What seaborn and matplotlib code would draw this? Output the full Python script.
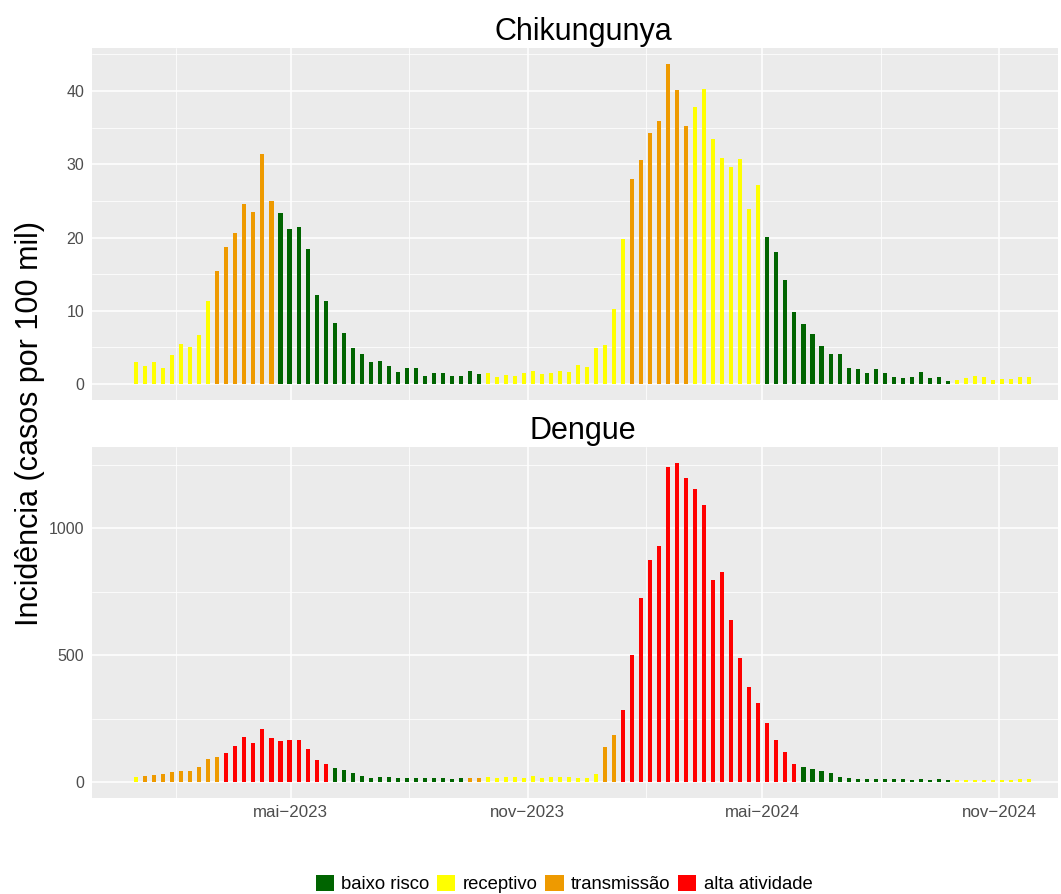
import pandas as pd
import numpy as np
import matplotlib
matplotlib.use("Agg")
import matplotlib.pyplot as plt
import matplotlib.dates as mdates
from matplotlib.patches import Patch
from matplotlib.ticker import FixedLocator
import seaborn as sns

# semanas epidemiologicas (uma barra por semana)
first_week = "2023-01-01"
n_weeks = 100

chik_values = [3.0, 2.5, 3.0, 2.2, 4.0, 5.5, 5.0, 6.7, 11.3,
               15.4, 18.7, 20.6, 24.6, 23.5, 31.4, 25.0,
               23.3, 21.2, 21.4, 18.4, 12.1, 11.3, 8.3, 7.0, 4.9, 4.1, 3.0, 3.1, 2.4, 1.6, 2.2, 2.2,
               1.1, 1.5, 1.5, 1.1, 1.1, 1.8, 1.4,
               1.5, 0.95, 1.2, 1.1, 1.5, 1.8, 1.4, 1.5, 1.8, 1.6, 2.6, 2.3, 4.9, 5.3, 10.2, 19.8,
               28.0, 30.6, 34.3, 35.9, 43.7, 40.1, 35.2,
               37.8, 40.3, 33.4, 30.9, 29.6, 30.7, 23.9, 27.2,
               20.1, 18.0, 14.2, 9.8, 8.2, 6.8, 5.2, 4.1, 4.1, 2.2, 2.05, 1.5, 2.05, 1.5, 0.95, 0.8,
               0.95, 1.6, 0.8, 0.95, 0.4,
               0.55, 0.8, 1.1, 0.95, 0.55, 0.7, 0.7, 0.95, 0.95]
chik_status_runs = [("receptivo", 9), ("transmissão", 7), ("baixo risco", 23),
                    ("receptivo", 16), ("transmissão", 7), ("receptivo", 8),
                    ("baixo risco", 21), ("receptivo", 9)]

dengue_values = [20,
                 24, 28, 32, 39, 43, 43, 59, 91, 98,
                 114, 142, 177, 153, 209, 173, 161, 165, 165, 131, 87, 71,
                 55, 47, 35, 24, 16, 20, 20, 16, 16, 16, 14, 14, 14, 10.5, 14,
                 14, 14,
                 20, 14, 20, 20, 14, 22, 14, 20, 20, 20, 14, 14, 30,
                 140, 184,
                 286, 499, 727, 876, 932, 1243, 1258, 1199, 1156, 1093, 798, 829, 640, 491, 373, 310,
                 231, 164, 117, 73,
                 58, 50, 42, 34, 18, 14, 10.5, 10.5, 10.5, 10.5, 10.5, 10.5, 6.6, 10.5, 6.6, 10.5, 6.6,
                 6.6, 6.6, 6.6, 6.6, 6.6, 6.6, 6.6, 10.5, 10.5]
dengue_status_runs = [("receptivo", 1), ("transmissão", 9), ("alta atividade", 12),
                      ("baixo risco", 15), ("transmissão", 2), ("receptivo", 13),
                      ("transmissão", 2), ("alta atividade", 20), ("baixo risco", 17),
                      ("receptivo", 9)]

status_order = ["baixo risco", "receptivo", "transmissão", "alta atividade"]
status_colors = {"baixo risco": "#006400", "receptivo": "#FFFF00",
                 "transmissão": "#EE9A00", "alta atividade": "#FF0000"}

major_dates = ["2023-05-01", "2023-11-01", "2024-05-01", "2024-11-01"]
major_labels = ["mai\u22122023", "nov\u22122023", "mai\u22122024", "nov\u22122024"]
minor_dates = ["2023-02-01", "2023-08-01", "2024-02-01", "2024-08-01"]
x_limits = ["2022-11-27 16:00", "2024-12-16 14:00"]

chik_yticks = [0, 10, 20, 30, 40]
chik_yminor = [5, 15, 25, 35, 45]
dengue_yticks = [0, 500, 1000]
dengue_yminor = [250, 750, 1250]


def expand(runs):
    return [s for s, n in runs for _ in range(n)]


weeks = pd.date_range(first_week, periods=n_weeks, freq="7D")
chik = pd.DataFrame({"semana": weeks, "incidencia": chik_values,
                     "status": expand(chik_status_runs), "agravo": "Chikungunya"})
dengue = pd.DataFrame({"semana": weeks, "incidencia": dengue_values,
                       "status": expand(dengue_status_runs), "agravo": "Dengue"})
df = pd.concat([chik, dengue], ignore_index=True)
df["x"] = mdates.date2num(df["semana"])

sns.set_style("darkgrid", {"axes.facecolor": "#EBEBEB", "grid.color": "white"})
plt.rcParams["font.family"] = ["Liberation Sans", "DejaVu Sans"]

W, H = 1061, 894
fig = plt.figure(figsize=(W / 100, H / 100), dpi=100)
ax1 = fig.add_axes([92 / W, 1 - 400 / H, 966 / W, 352 / H])
ax2 = fig.add_axes([92 / W, 1 - 798 / H, 966 / W, 351 / H])

xlim = mdates.date2num(pd.to_datetime(x_limits))

panels = [(ax1, "Chikungunya", chik_yticks, chik_yminor),
          (ax2, "Dengue", dengue_yticks, dengue_yminor)]
for ax, name, yt, ym in panels:
    sub = df[df["agravo"] == name]
    sns.barplot(data=sub, x="x", y="incidencia", hue="status", hue_order=status_order,
                palette=status_colors, saturation=1, native_scale=True, dodge=False,
                width=0.45, errorbar=None, legend=False, linewidth=0, ax=ax)
    ymax = sub["incidencia"].max()
    ax.set_xlim(xlim[0], xlim[1])
    ax.set_ylim(-0.05 * ymax, 1.05 * ymax)
    ax.xaxis.set_major_locator(FixedLocator(mdates.date2num(pd.to_datetime(major_dates))))
    ax.xaxis.set_minor_locator(FixedLocator(mdates.date2num(pd.to_datetime(minor_dates))))
    ax.yaxis.set_major_locator(FixedLocator(yt))
    ax.yaxis.set_minor_locator(FixedLocator(ym))
    ax.grid(which="major", color="white", linewidth=1.1)
    ax.grid(which="minor", color="white", linewidth=0.55)
    ax.set_axisbelow(True)
    for s in ax.spines.values():
        s.set_visible(False)
    ax.set_xlabel("")
    ax.set_ylabel("")
    ax.set_title(name, fontsize=22, pad=6, color="black", x=0.5 + 8 / 966)
    ax.tick_params(which="major", length=3, width=0.8, color="#333333",
                   labelsize=11.5, labelcolor="#4D4D4D", pad=2.5)
    ax.tick_params(which="minor", length=0)

ax1.tick_params(axis="x", which="both", bottom=False, labelbottom=False)
ax2.set_xticklabels(major_labels)
ax2.tick_params(axis="x", labelsize=12.2, pad=2)

fig.text(30 / W, 1 - 423 / H, "Incidência (casos por 100 mil)", rotation=90,
         fontsize=22, ha="center", va="center", color="black")

handles = [Patch(facecolor=status_colors[s], edgecolor="none", label=s) for s in status_order]
fig.legend(handles=handles, loc="center", bbox_to_anchor=(564 / W, 1 - 884 / H), ncol=4,
           frameon=False, fontsize=13.3, handlelength=1.0, handleheight=1.0,
           handletextpad=0.4, columnspacing=0.4, borderaxespad=0, borderpad=0,
           labelcolor="black")

fig.savefig("out.png", dpi=100)
